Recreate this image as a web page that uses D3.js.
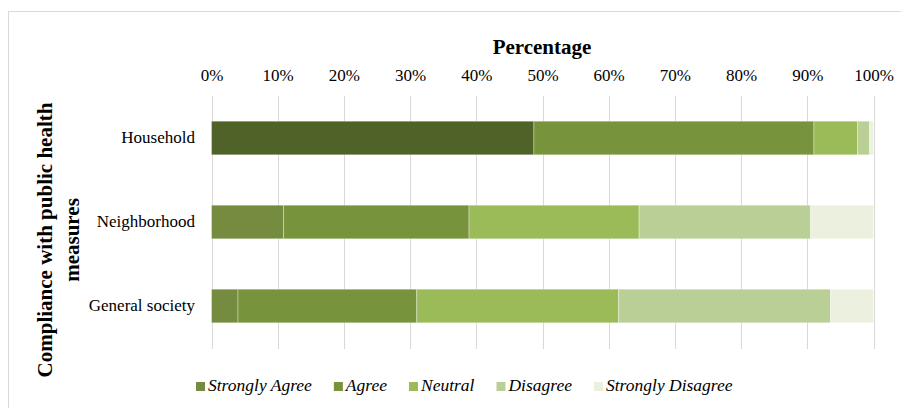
<!DOCTYPE html>
<html>
<head>
<meta charset="utf-8">
<script src="https://cdn.jsdelivr.net/npm/d3@7"></script>
<style>
  html, body { margin: 0; padding: 0; background: #fff; }
  svg { display: block; font-family: "Liberation Serif", "Times New Roman", serif; }
</style>
</head>
<body>
<svg id="chart" width="901" height="408"></svg>
<script>
// Survey responses: compliance with public health measures (percent of respondents)
const categories = ["Household", "Neighborhood", "General society"];
const seriesNames = ["Strongly Agree", "Agree", "Neutral", "Disagree", "Strongly Disagree"];
const stronglyAgree    = [48.7, 10.9, 4.0];
const agree            = [42.3, 28.0, 27.0];
const neutral          = [6.6, 25.7, 30.5];
const disagree         = [1.8, 25.9, 32.0];
const stronglyDisagree = [0.6, 9.5, 6.5];
const tickValues = [0, 10, 20, 30, 40, 50, 60, 70, 80, 90, 100];

const seriesValues = [stronglyAgree, agree, neutral, disagree, stronglyDisagree];
const colors = ["#758b40", "#77933c", "#9bbb59", "#bacf96", "#ebf1de"];
// The household "strongly agree" segment is highlighted in a darker shade
const highlight = { series: 0, category: 0, color: "#4f6228" };

const rows = categories.map((c, i) => {
  const r = { category: c };
  seriesNames.forEach((s, j) => { r[s] = seriesValues[j][i]; });
  return r;
});
const stacked = d3.stack().keys(seriesNames)(rows);

const svg = d3.select("#chart");

// chart area border
svg.append("rect")
  .attr("x", 8.5).attr("y", 11.5)
  .attr("width", 1000).attr("height", 1000)
  .attr("fill", "none").attr("stroke", "#d9d9d9").attr("stroke-width", 1);

const x = d3.scaleLinear().domain([0, 100]).range([211.5, 873.5]);
const y = d3.scaleBand().domain(categories).range([96, 348])
  .paddingInner(0.6).paddingOuter(0.3);

// vertical gridlines
svg.append("g").selectAll("line").data(tickValues).join("line")
  .attr("x1", d => Math.round(x(d)) + 0.5).attr("x2", d => Math.round(x(d)) + 0.5)
  .attr("y1", 96).attr("y2", 349)
  .attr("stroke", "#d9d9d9").attr("stroke-width", 1);

// top axis labels
const xAxis = d3.axisTop(x).tickValues(tickValues).tickFormat(d => d + "%").tickSize(0).tickPadding(0);
const ax = svg.append("g").attr("transform", "translate(0,81)").call(xAxis);
ax.select(".domain").remove();
ax.selectAll("text").attr("font-size", 17).attr("fill", "#000").attr("dy", 0)
  .attr("font-family", "Liberation Serif, Times New Roman, serif");

// bars
svg.append("g").selectAll("g").data(stacked).join("g")
  .each(function (layer, j) {
    d3.select(this).selectAll("rect").data(layer).join("rect")
      .attr("x", d => x(d[0]))
      .attr("width", d => x(d[1]) - x(d[0]))
      .attr("y", d => y(d.data.category))
      .attr("height", y.bandwidth())
      .attr("fill", (d, i) => (j === highlight.series && i === highlight.category) ? highlight.color : colors[j])
      .attr("stroke", "rgba(255,255,255,0.35)")
      .attr("stroke-width", 1);
  });

// category labels
const yAxis = d3.axisLeft(y).tickSize(0).tickPadding(0);
const ay = svg.append("g").attr("transform", "translate(195,0)").call(yAxis);
ay.select(".domain").remove();
ay.selectAll("text").attr("font-size", 17).attr("fill", "#000").attr("dy", "0.3em")
  .attr("font-family", "Liberation Serif, Times New Roman, serif");

// axis titles
svg.append("text")
  .attr("x", 542).attr("y", 54)
  .attr("text-anchor", "middle")
  .attr("font-size", 21).attr("font-weight", "bold")
  .text("Percentage");

const yt = svg.append("text")
  .attr("transform", "translate(0,240) rotate(-90)")
  .attr("text-anchor", "middle")
  .attr("font-size", 21).attr("font-weight", "bold");
yt.append("tspan").attr("x", 0).attr("y", 52).text("Compliance with public health");
yt.append("tspan").attr("x", 0).attr("y", 79).text("measures");

// legend
const legend = svg.append("g").attr("transform", "translate(196,0)");
let lx = 0;
seriesNames.forEach((name, j) => {
  const item = legend.append("g").attr("transform", `translate(${lx},0)`);
  item.append("rect").attr("x", 0).attr("y", 382).attr("width", 9).attr("height", 9)
    .attr("fill", colors[j]);
  const t = item.append("text").attr("x", 12).attr("y", 391)
    .attr("font-size", 17.5).attr("font-style", "italic").text(name);
  lx += 12 + t.node().getComputedTextLength() + 22;
});
</script>
</body>
</html>
